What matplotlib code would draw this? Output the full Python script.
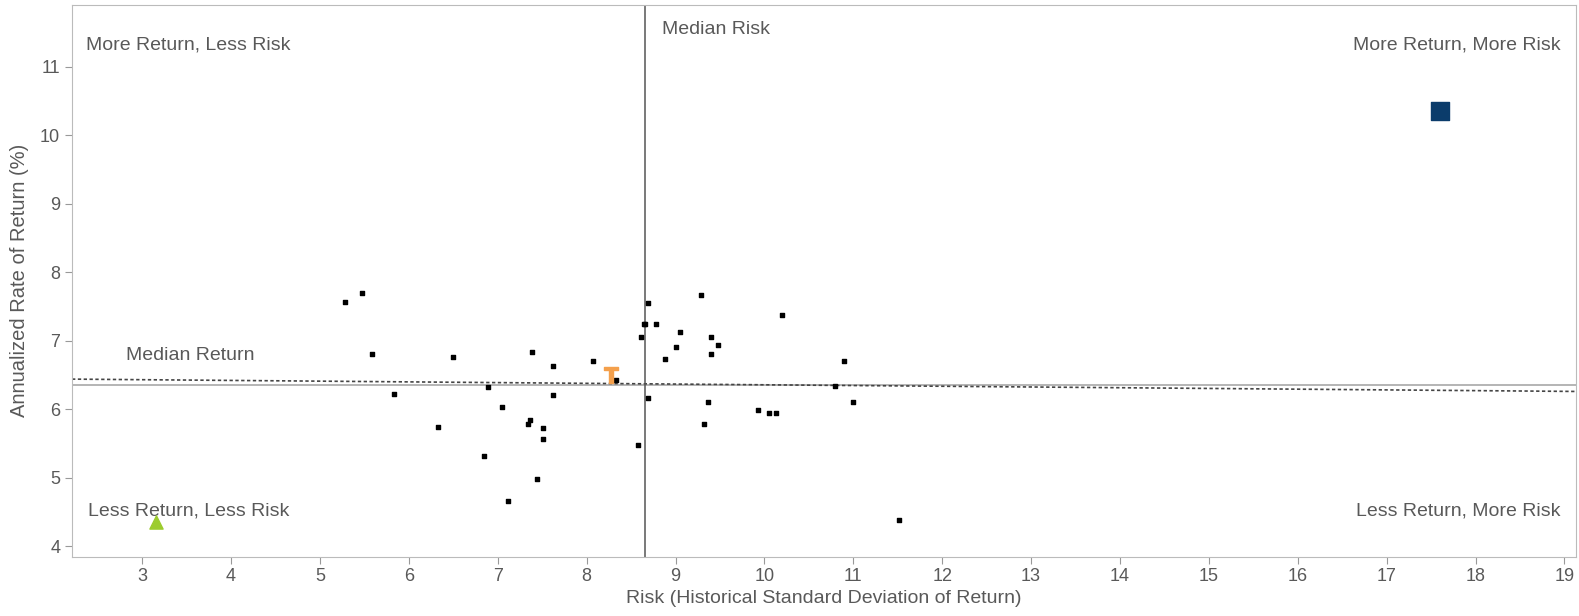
import numpy as np
import matplotlib
matplotlib.use('Agg')
import matplotlib.pyplot as plt

plt.rcParams['font.family'] = ['Liberation Sans', 'DejaVu Sans']

# peer funds (risk, return)
peer_risk = [5.28, 5.47, 5.58, 5.83, 6.33, 6.50, 6.84, 6.89, 7.05, 7.11,
             7.38, 7.36, 7.34, 7.44, 7.51, 7.51, 7.62, 7.62, 8.07, 8.33,
             8.61, 8.66, 8.65, 8.69, 8.69, 8.58, 8.78, 8.88, 9.01, 9.05,
             9.29, 9.36, 9.32, 9.40, 9.40, 9.48, 10.20, 9.93, 10.05, 10.13,
             10.79, 10.89, 11.00, 11.51]
peer_ret = [7.56, 7.69, 6.81, 6.23, 5.74, 6.76, 5.32, 6.33, 6.03, 4.66,
            6.84, 5.84, 5.78, 4.98, 5.73, 5.57, 6.63, 6.21, 6.71, 6.42,
            7.06, 7.24, 7.25, 7.55, 6.17, 5.48, 7.25, 6.74, 6.91, 7.13,
            7.67, 6.10, 5.79, 7.06, 6.80, 6.94, 7.37, 5.99, 5.95, 5.95,
            6.34, 6.71, 6.10, 4.39]

fund_risk, fund_ret = 8.27, 6.50       # orange T
high_risk, high_ret = 17.60, 10.35     # blue square
low_risk, low_ret = 3.16, 4.36         # green triangle

median_risk = 8.66
median_return = 6.35
trend_x = [2.21, 19.13]
trend_y = [6.44, 6.26]

xticks = list(range(3, 20))
yticks = list(range(4, 12))

fig = plt.figure(figsize=(15.79, 6.16), dpi=100)
ax = fig.add_axes([0.0456, 0.0964, 0.9525, 0.8956])
ax.set_xlim(2.21, 19.13)
ax.set_ylim(3.85, 11.9)

txt = '#595959'

ax.axhline(median_return, color='#a8a8a8', lw=1.2, zorder=1)
ax.plot(trend_x, trend_y, color='#444444', lw=1.2, ls=(0, (2, 1.5)), zorder=2)
ax.axvline(median_risk, color='#555555', lw=1.1, zorder=2)

ax.scatter(peer_risk, peer_ret, s=5, marker='s', color='black', zorder=3)
ax.scatter([high_risk], [high_ret], s=150, marker='s', color='#0b3c6b', zorder=4)
ax.scatter([low_risk], [low_ret], s=90, marker='^', color='#9ccc2e', zorder=4)
ax.scatter([fund_risk], [fund_ret], s=130, marker=r'$\mathbf{T}$', color='#f4a04c', zorder=5)

fs = 14
ax.text(2.37, 11.31, 'More Return, Less Risk', color=txt, fontsize=fs, va='center', ha='left')
ax.text(18.96, 11.31, 'More Return, More Risk', color=txt, fontsize=fs, va='center', ha='right')
ax.text(2.39, 4.51, 'Less Return, Less Risk', color=txt, fontsize=fs, va='center', ha='left')
ax.text(18.96, 4.51, 'Less Return, More Risk', color=txt, fontsize=fs, va='center', ha='right')
ax.text(8.85, 11.54, 'Median Risk', color=txt, fontsize=fs, va='center', ha='left')
ax.text(2.82, 6.78, 'Median Return', color=txt, fontsize=fs, va='center', ha='left')

ax.set_xticks(xticks)
ax.set_yticks(yticks)
ax.tick_params(colors='#999999', labelcolor=txt, labelsize=13, length=5, direction='out')
for s in ax.spines.values():
    s.set_color('#bbbbbb')

ax.set_xlabel('Risk (Historical Standard Deviation of Return)', color=txt, fontsize=14, labelpad=3)
ax.set_ylabel('Annualized Rate of Return (%)', color=txt, fontsize=14.5, labelpad=8)

fig.savefig('out.png', dpi=100)
